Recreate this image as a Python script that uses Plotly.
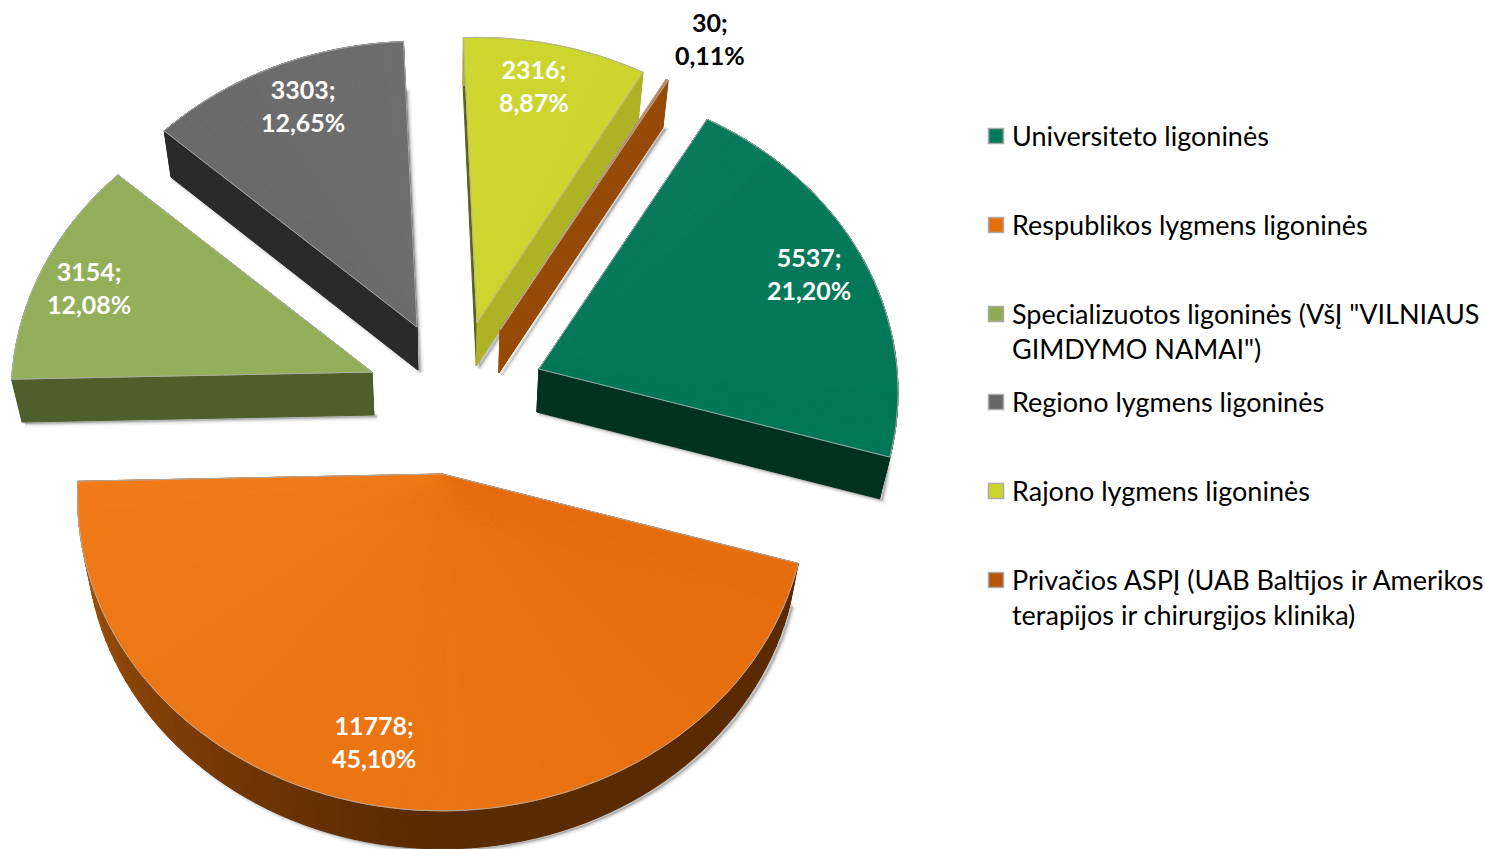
import math
import plotly.graph_objects as go

# ---- data ----
categories = [
    "Universiteto ligoninės",
    "Respublikos lygmens ligoninės",
    'Specializuotos ligoninės (VšĮ "VILNIAUS<br>GIMDYMO NAMAI")',
    "Regiono lygmens ligoninės",
    "Rajono lygmens ligoninės",
    "Privačios ASPĮ (UAB Baltijos ir Amerikos<br>terapijos ir chirurgijos klinika)",
]
values = [5537, 11778, 3154, 3303, 2316, 30]

# ---- styling ----
top_from = ["#087A5B", "#E56D0D", "#94AF5A", "#6A6A6A", "#CED630", "#C08050"]
top_to = ["#007757", "#F07A18", "#94AF5A", "#6E6E6E", "#CCD52D", "#C08050"]
face_start = ["#00331F", "#5A2A02", "#4F5F2B", "#2A2A2A", "#5F6015", "#964A05"]
face_end = ["#00331F", "#5A2A02", "#4F5F2B", "#2A2A2A", "#ADB324", "#964A05"]
rim_color = ["#00331F", None, "#4F5F2B", "#2A2A2A", "#ADB324", "#964A05"]
key_color = ["#007A5A", "#E66E0D", "#8FAA50", "#666666", "#CCD52D", "#B7530B"]
label_color = ["white", "white", "white", "white", "white", "black"]

# ---- pie geometry (an exploded, tilted 3D pie) ----
start_angle = 30.0
centre_x, centre_y = 450, 370
radius_x, radius_y = 358, 307
persp = 0.075
pull_x = [89, -8, -78, -33, 27, 50]
pull_y = [-1, 104, 2, -43, -47, -40]
size_scale = [1, 1.015, 1.005, 1, 1, 1]
depth, depth_tilt, squeeze = 43, 5, 0.024
label_x = [809, 374, 89, 303, 534, 710]
label_y = [273, 741, 287, 105, 85, 38]
legend_y = [135, 224, 313, 401, 490, 579]
legend_key_x, legend_text_x = 996, 1010
FONT = "Lato"
label_size, legend_size = 25, 27


def lerp(c1, c2, f):
    a = [int(c1[i:i + 2], 16) for i in (1, 3, 5)]
    b = [int(c2[i:i + 2], 16) for i in (1, 3, 5)]
    return "#%02X%02X%02X" % tuple(round(p + (q - p) * f) for p, q in zip(a, b))


def top_point(ax, ay, t, scale):
    sx, cy = math.sin(math.radians(t)), math.cos(math.radians(t))
    s = scale / (1 + persp * cy)
    return ax + radius_x * sx * s, ay - radius_y * cy * s, cy


def lower(p, y_back=0.0):
    x, y = p
    return x - squeeze * (x - centre_x), y + depth + depth_tilt * y_back


def poly(fig, xs, ys, color):
    fig.add_trace(go.Scatter(x=xs + xs[:1], y=ys + ys[:1], mode="lines", fill="toself",
                             fillcolor=color, line=dict(color=color, width=1),
                             hoverinfo="skip", showlegend=False))


def rim_shade(t):
    if t >= 180:
        return lerp("#5A2A02", "#A5520A", min(1, (t - 180) / 80) ** 1.3)
    return "#5A2A02"


fig = go.Figure()
total = sum(values)
angle = start_angle
for i, v in enumerate(values):
    span = 360 * v / total
    t0, t1 = angle, angle + span
    angle = t1
    ax, ay = centre_x + pull_x[i], centre_y + pull_y[i]
    n = max(2, math.ceil(span / 2))
    ts = [t0 + (t1 - t0) * k / n for k in range(n + 1)]
    pts = [top_point(ax, ay, t, size_scale[i]) for t in ts]
    upper = [(p[0], p[1]) for p in pts]
    low = [lower(u, p[2]) for u, p in zip(upper, pts)]
    apex_low = lower((ax, ay))

    # soft shadow of the underside
    sx = [p[0] + 3 for p in low] + [apex_low[0] + 3]
    sy = [p[1] + 2 for p in low] + [apex_low[1] + 2]
    for w, op in ((7, 0.05), (4, 0.08), (2, 0.12)):
        fig.add_trace(go.Scatter(x=sx + sx[:1], y=sy + sy[:1], mode="lines", fill="toself",
                                 fillcolor="rgba(60,60,60,%s)" % op,
                                 line=dict(color="rgba(60,60,60,%s)" % op, width=w),
                                 hoverinfo="skip", showlegend=False))

    # radial side walls
    poly(fig, [ax, upper[0][0], low[0][0], apex_low[0]],
         [ay, upper[0][1], low[0][1], apex_low[1]], face_start[i])
    poly(fig, [ax, upper[-1][0], low[-1][0], apex_low[0]],
         [ay, upper[-1][1], low[-1][1], apex_low[1]], face_end[i])
    # outer rim
    for k in range(n):
        c = rim_color[i] or rim_shade((ts[k] + ts[k + 1]) / 2)
        poly(fig, [upper[k][0], upper[k + 1][0], low[k + 1][0], low[k][0]],
             [upper[k][1], upper[k + 1][1], low[k + 1][1], low[k][1]], c)
    # top surface, shaded wedge by wedge
    for k in range(n):
        c = lerp(top_from[i], top_to[i], k / n)
        poly(fig, [ax, upper[k][0], upper[k + 1][0]], [ay, upper[k][1], upper[k + 1][1]], c)
    ox = [ax] + [u[0] for u in upper] + [ax]
    oy = [ay] + [u[1] for u in upper] + [ay]
    fig.add_trace(go.Scatter(x=ox, y=oy, mode="lines",
                             line=dict(color="rgba(175,175,175,0.9)", width=1),
                             hoverinfo="skip", showlegend=False))

    pct = f"{100 * v / total:.2f}".replace(".", ",")
    fig.add_annotation(x=label_x[i], y=label_y[i], xref="x", yref="y", showarrow=False,
                       text=f"{v};<br>{pct}%", align="center",
                       font=dict(family=FONT, size=label_size, color=label_color[i], weight="bold"))

# legend
for i, name in enumerate(categories):
    fig.add_trace(go.Scatter(x=[legend_key_x], y=[legend_y[i] + 1], mode="markers",
                             marker=dict(symbol="square", size=15, color=key_color[i],
                                         line=dict(color="#AAAAAA", width=1.5)),
                             hoverinfo="skip", showlegend=False))
    lines = name.count("<br>")
    fig.add_annotation(x=legend_text_x, y=legend_y[i], xref="x", yref="y", showarrow=False,
                       xanchor="left", yanchor="top" if lines else "middle",
                       yshift=18 if lines else 0, text=name, align="left",
                       font=dict(family=FONT, size=legend_size, color="black"))

fig.update_layout(width=1485, height=849, autosize=False, margin=dict(l=0, r=0, t=0, b=0),
                  paper_bgcolor="white", plot_bgcolor="white", showlegend=False,
                  xaxis=dict(range=[0, 1485], visible=False, fixedrange=True),
                  yaxis=dict(range=[849, 0], visible=False, fixedrange=True))
fig.write_html("out.html", config=dict(displayModeBar=False),
               post_script="document.body.style.margin='0';document.body.style.overflow='hidden';"
                           "var st=document.createElement('style');"
                           "st.textContent='text{font-variant-ligatures:none}';"
                           "document.head.appendChild(st);")
